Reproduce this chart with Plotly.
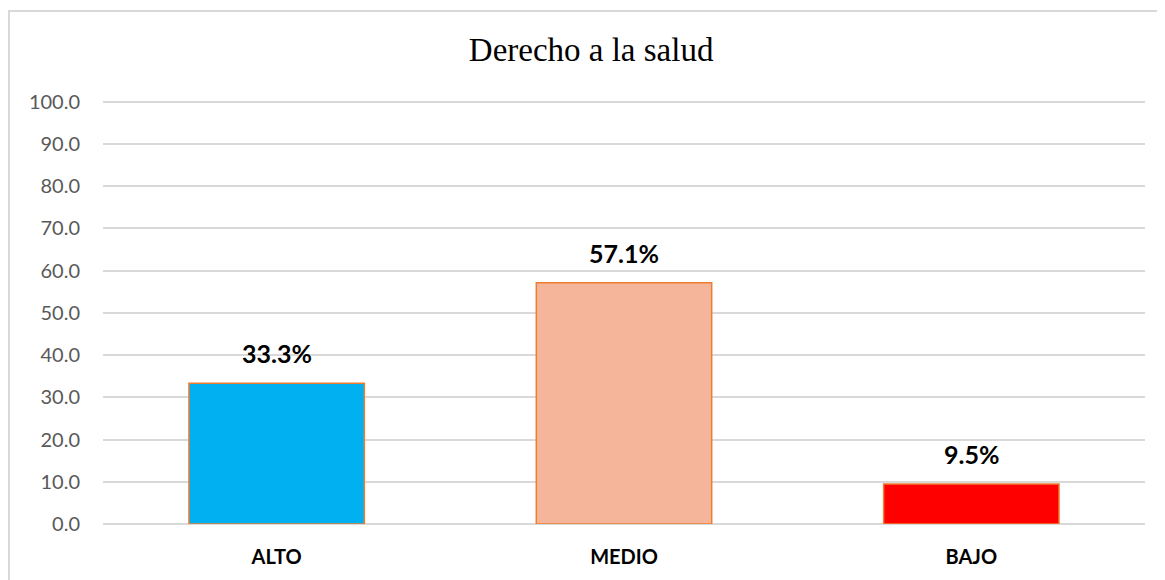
import plotly.graph_objects as go

# data
categorias = ["ALTO", "MEDIO", "BAJO"]
porcentajes = [33.3, 57.1, 9.5]
colores = ["#00B0F0", "#F5B59B", "#FF0000"]
etiquetas = ["33.3%", "57.1%", "9.5%"]
y_ticks = [0, 10, 20, 30, 40, 50, 60, 70, 80, 90, 100]

fig = go.Figure(
    go.Bar(
        x=categorias,
        y=porcentajes,
        width=0.505,
        marker=dict(color=colores, line=dict(color="#ED7D31", width=1.5)),
        hoverinfo="x+y",
    )
)

# value labels over the bars
for cat, val, txt in zip(categorias, porcentajes, etiquetas):
    fig.add_annotation(
        x=cat, y=val, text=f"<b>{txt}</b>", showarrow=False,
        yanchor="bottom", yshift=13,
        font=dict(family="Lato", size=25, color="#000000"),
    )

# outer chart border
fig.add_shape(
    type="rect", xref="paper", yref="paper",
    x0=-0.0902, x1=1.2, y0=-0.2, y1=1.2099,
    line=dict(color="#D9D9D9", width=2), fillcolor="rgba(0,0,0,0)",
    layer="below",
)

# page body has an 8px margin, so the figure is 8px smaller
fig.update_layout(
    width=1157,
    height=572,
    margin=dict(l=95, r=20, t=92, b=56),
    paper_bgcolor="white",
    plot_bgcolor="white",
    showlegend=False,
    bargap=0.495,
    title=dict(
        text="Derecho a la salud",
        x=0.504, xref="container", xanchor="center",
        y=0.927, yref="container", yanchor="middle",
        font=dict(family="Liberation Serif", size=33, color="#000000"),
    ),
)

fig.update_xaxes(
    showgrid=False, showline=False, zeroline=False,
    ticks="", ticklabelstandoff=19,
    tickfont=dict(family="Lato", size=20, color="#000000", weight="bold"),
)
fig.update_yaxes(
    range=[0, 100.4], tickvals=y_ticks, tickformat=".1f",
    showgrid=True, gridcolor="#D9D9D9", gridwidth=1.5,
    zeroline=True, zerolinecolor="#D9D9D9", zerolinewidth=1.5,
    showline=False, ticks="", ticklabelstandoff=22,
    tickfont=dict(family="Lato", size=20, color="#595959"),
)

fig.write_html("out.html")
